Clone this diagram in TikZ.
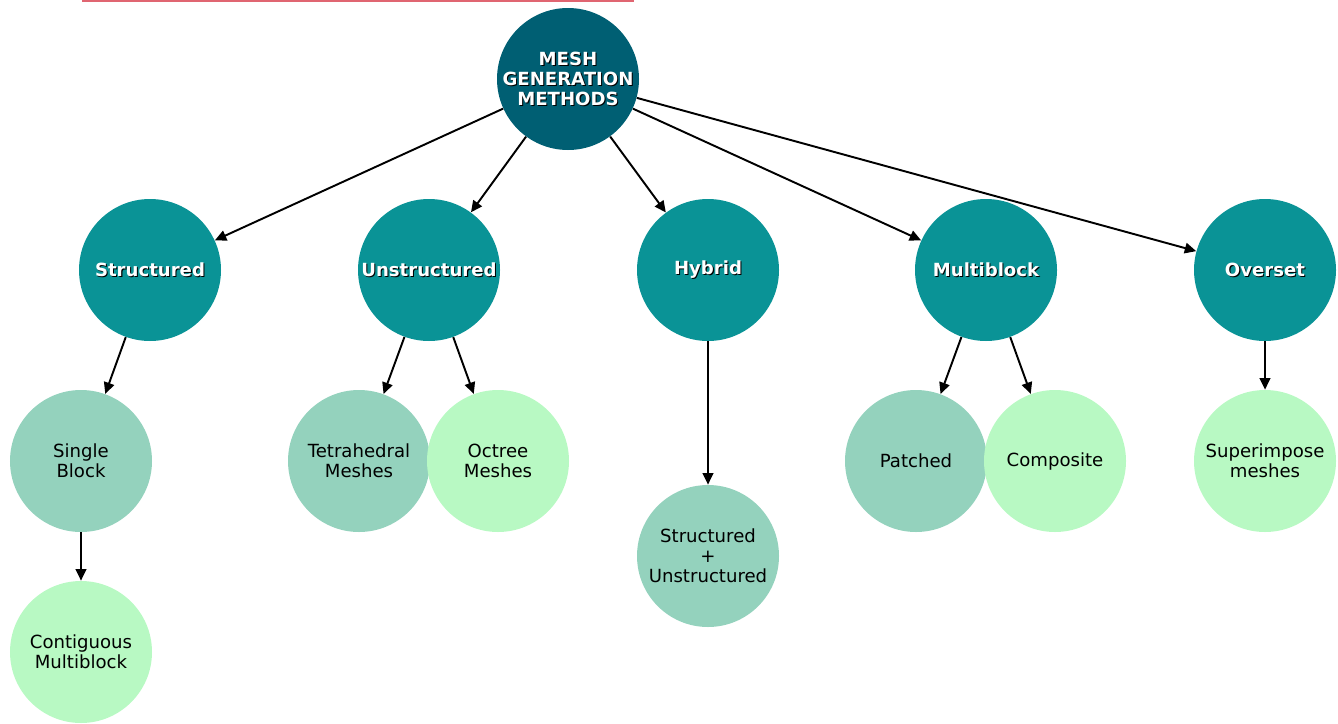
\documentclass[tikz,border=0pt]{standalone}
\usepackage{fontspec}
\setmainfont{DejaVu Sans}
\usetikzlibrary{arrows.meta}
\definecolor{rootteal}{HTML}{005F73}
\definecolor{midteal}{HTML}{0A9396}
\definecolor{mint}{HTML}{94D2BD}
\definecolor{palegreen}{HTML}{B8F9C3}
\definecolor{topline}{HTML}{E06571}
\newcommand\shtext[1]{\makebox[0pt][l]{\hspace{0.6pt}\raisebox{-0.6pt}{\color{black}#1}}#1}
\begin{document}
\begin{tikzpicture}[x=1cm,y=1cm,
    bubble/.style={circle,minimum size=2.84cm,inner sep=0pt,align=center,
      font=\fontsize{10.3}{11.4}\selectfont},
    rootbub/.style={bubble,fill=rootteal,text=white,font=\bfseries\fontsize{10.3}{11.4}\selectfont},
    kindbub/.style={bubble,fill=midteal,text=white,font=\bfseries\fontsize{10.3}{11.4}\selectfont},
    leafa/.style={bubble,fill=mint},
    leafb/.style={bubble,fill=palegreen},
    link/.style={-{Triangle[length=6.5pt,width=6pt]},line width=1.1pt}]
  \useasboundingbox (0,0) rectangle (26.76,-14.46);
  \draw [topline,line width=1.2pt] (1.64,-0.01) -- (12.68,-0.01);

  % top
  \node [rootbub] (root) at (11.36,-1.58) {\shtext{MESH}\\\shtext{GENERATION}\\\shtext{METHODS}};

  % methods
  \node [kindbub] (struct) at (3.00,-5.40) {\shtext{Structured}};
  \node [kindbub] (unstruct) at (8.58,-5.40) {\shtext{Unstructured}};
  \node [kindbub] (hybrid) at (14.16,-5.40) {\shtext{Hybrid}};
  \node [kindbub] (multi) at (19.72,-5.40) {\shtext{Multiblock}};
  \node [kindbub] (overset) at (25.30,-5.40) {\shtext{Overset}};

  % leaves
  \node [leafa] (single) at (1.62,-9.22) {Single\\Block};
  \node [leafb] (contig) at (1.62,-13.04) {Contiguous\\Multiblock};
  \node [leafa] (tetra) at (7.18,-9.22) {Tetrahedral\\Meshes};
  \node [leafb] (octree) at (9.96,-9.22) {Octree\\Meshes};
  \node [leafa] (strunstr) at (14.16,-11.12) {Structured\\+\\Unstructured};
  \node [leafa] (patched) at (18.32,-9.22) {Patched};
  \node [leafb] (composite) at (21.10,-9.22) {Composite};
  \node [leafb] (superimp) at (25.30,-9.22) {Superimpose\\meshes};

  \foreach \k in {struct,unstruct,hybrid,multi,overset}
    \draw [link] (root) -- (\k);
  \draw [link] (struct) -- (single);
  \draw [link] (single) -- (contig);
  \draw [link] (unstruct) -- (tetra);
  \draw [link] (unstruct) -- (octree);
  \draw [link] (hybrid) -- (strunstr);
  \draw [link] (multi) -- (patched);
  \draw [link] (multi) -- (composite);
  \draw [link] (overset) -- (superimp);
\end{tikzpicture}
\end{document}
